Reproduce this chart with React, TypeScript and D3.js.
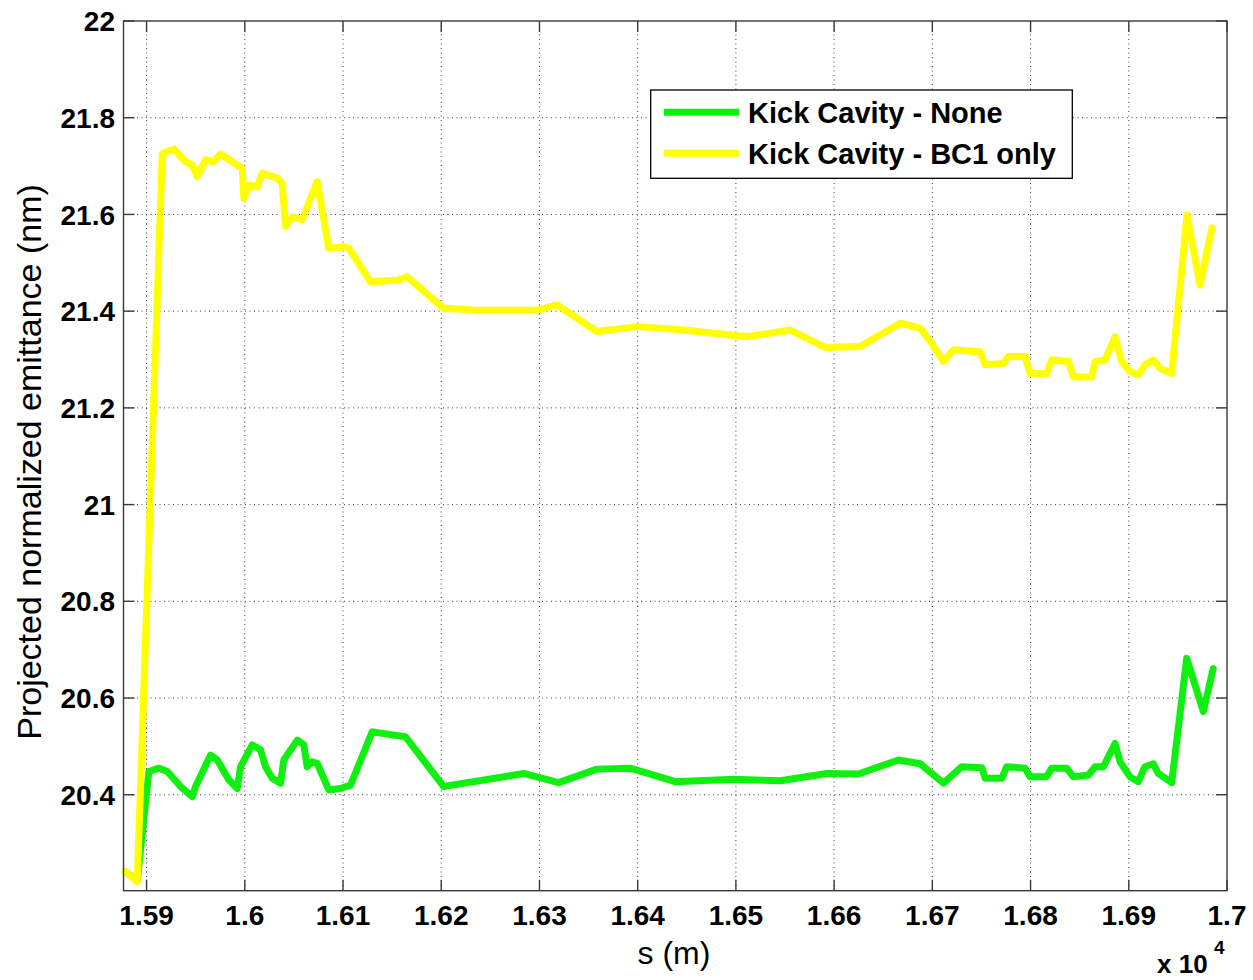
import React from "react";
import * as d3 from "d3";

const sNone: number[] = [15878.6, 15890.5, 15902.3, 15912.5, 15921.1, 15934.6, 15946.5, 15949.9, 15965.1, 15971.9, 15983.7, 15992.3, 15995.7, 16007.6, 16016.0, 16021.1, 16027.9, 16036.4, 16039.7, 16053.4, 16060.1, 16063.5, 16068.6, 16073.7, 16085.5, 16097.4, 16107.6, 16129.7, 16163.5, 16202.5, 16283.9, 16319.5, 16358.6, 16392.5, 16438.3, 16497.6, 16545.1, 16592.6, 16624.8, 16665.5, 16687.6, 16711.3, 16730.0, 16750.4, 16753.7, 16770.7, 16775.7, 16794.4, 16799.5, 16816.5, 16821.6, 16836.8, 16843.6, 16858.9, 16865.7, 16874.1, 16886.0, 16891.1, 16901.3, 16909.7, 16916.5, 16925.0, 16930.0, 16943.7, 16959.0, 16975.9, 16986.0];
const eNone: number[] = [20.241, 20.222, 20.448, 20.455, 20.448, 20.417, 20.396, 20.417, 20.482, 20.472, 20.431, 20.413, 20.458, 20.503, 20.493, 20.458, 20.434, 20.424, 20.472, 20.513, 20.503, 20.458, 20.468, 20.465, 20.41, 20.413, 20.42, 20.53, 20.52, 20.417, 20.444, 20.425, 20.453, 20.455, 20.427, 20.432, 20.429, 20.444, 20.443, 20.472, 20.464, 20.424, 20.458, 20.456, 20.434, 20.434, 20.458, 20.455, 20.437, 20.438, 20.455, 20.455, 20.437, 20.441, 20.458, 20.458, 20.506, 20.468, 20.437, 20.427, 20.458, 20.464, 20.444, 20.425, 20.682, 20.572, 20.661];

const sBC1: number[] = [15878.6, 15890.5, 15916.0, 15927.8, 15939.7, 15946.5, 15951.6, 15960.0, 15968.5, 15975.3, 15992.3, 15997.4, 15999.0, 16004.1, 16012.6, 16017.7, 16033.0, 16038.1, 16041.4, 16048.3, 16058.4, 16073.7, 16085.5, 16100.8, 16105.9, 16127.9, 16155.1, 16165.3, 16202.4, 16236.5, 16297.5, 16317.8, 16358.5, 16399.2, 16446.7, 16511.2, 16555.3, 16590.9, 16626.5, 16667.2, 16687.6, 16699.5, 16711.3, 16721.5, 16748.6, 16753.7, 16772.4, 16777.4, 16794.4, 16799.5, 16816.5, 16821.6, 16838.5, 16843.6, 16862.3, 16865.7, 16875.9, 16886.0, 16892.8, 16901.3, 16909.7, 16916.5, 16925.0, 16931.8, 16943.7, 16959.3, 16972.5, 16984.7];
const eBC1: number[] = [20.241, 20.22, 21.726, 21.735, 21.709, 21.702, 21.678, 21.713, 21.709, 21.725, 21.702, 21.695, 21.633, 21.661, 21.657, 21.685, 21.675, 21.664, 21.575, 21.595, 21.589, 21.668, 21.53, 21.533, 21.53, 21.461, 21.464, 21.471, 21.406, 21.402, 21.402, 21.413, 21.358, 21.368, 21.361, 21.347, 21.361, 21.325, 21.327, 21.375, 21.365, 21.333, 21.296, 21.32, 21.316, 21.289, 21.292, 21.306, 21.306, 21.271, 21.271, 21.299, 21.296, 21.264, 21.264, 21.296, 21.299, 21.347, 21.296, 21.275, 21.268, 21.289, 21.299, 21.282, 21.271, 21.599, 21.454, 21.572];

const xTicks: number[] = [15900, 16000, 16100, 16200, 16300, 16400, 16500, 16600, 16700, 16800, 16900, 17000];
const xTickLabels: string[] = ["1.59", "1.6", "1.61", "1.62", "1.63", "1.64", "1.65", "1.66", "1.67", "1.68", "1.69", "1.7"];
const yTicks: number[] = [20.4, 20.6, 20.8, 21, 21.2, 21.4, 21.6, 21.8, 22];
const yTickLabels: string[] = ["20.4", "20.6", "20.8", "21", "21.2", "21.4", "21.6", "21.8", "22"];
const seriesNames: string[] = ["Kick Cavity - None", "Kick Cavity - BC1 only"];
const seriesColors: string[] = ["#10f010", "#ffff00"];

const L = 123.5, R = 1227, T = 21, B = 890.7;

export default function App() {
  const x = d3.scaleLinear().domain([15876.5, 17000]).range([L, R]);
  const y = d3.scaleLinear().domain([20.2016, 22]).range([B, T]);
  const line = d3.line<[number, number]>().x((d) => x(d[0])).y((d) => y(d[1]));
  const dNone = line(sNone.map((s, i) => [s, eNone[i]] as [number, number])) || "";
  const dBC1 = line(sBC1.map((s, i) => [s, eBC1[i]] as [number, number])) || "";
  const font = "Arial, 'Liberation Sans', Helvetica, sans-serif";
  const tl = 11;
  const axisColor = "#3a3a3a";
  return (
    <svg width={1253} height={980} style={{ position: "absolute", left: 0, top: 0, background: "#fff" }} fontFamily={font}>
      <rect x={0} y={0} width={1253} height={980} fill="#fff" />
      {/* grid */}
      <g stroke="#000" strokeWidth={1} strokeDasharray="1,3.5" opacity={0.75}>
        {xTicks.filter((t) => x(t) < R - 1).map((t) => (
          <line key={"gx" + t} x1={x(t)} x2={x(t)} y1={T} y2={B} />
        ))}
        {yTicks.filter((t) => y(t) > T + 1).map((t) => (
          <line key={"gy" + t} x1={L} x2={R} y1={y(t)} y2={y(t)} />
        ))}
      </g>
      {/* lines */}
      <path d={dNone} fill="none" stroke={seriesColors[0]} strokeWidth={7} strokeLinejoin="round" strokeLinecap="round" />
      <path d={dBC1} fill="none" stroke={seriesColors[1]} strokeWidth={7} strokeLinejoin="round" strokeLinecap="round" />
      {/* box and ticks */}
      <rect x={L} y={T} width={R - L} height={B - T} fill="none" stroke={axisColor} strokeWidth={1.4} />
      <g stroke={axisColor} strokeWidth={1.4}>
        {xTicks.map((t) => (
          <g key={"tx" + t}>
            <line x1={x(t)} x2={x(t)} y1={B} y2={B - tl} />
            <line x1={x(t)} x2={x(t)} y1={T} y2={T + tl} />
          </g>
        ))}
        {yTicks.map((t) => (
          <g key={"ty" + t}>
            <line x1={L} x2={L + tl} y1={y(t)} y2={y(t)} />
            <line x1={R} x2={R - tl} y1={y(t)} y2={y(t)} />
          </g>
        ))}
      </g>
      {/* tick labels */}
      <g fontSize={28} fontWeight="bold" fill="#000">
        {xTicks.map((t, i) => (
          <text key={"lx" + t} x={x(t)} y={925} textAnchor="middle">{xTickLabels[i]}</text>
        ))}
        {yTicks.map((t, i) => (
          <text key={"ly" + t} x={115} y={y(t)} dy="0.36em" textAnchor="end">{yTickLabels[i]}</text>
        ))}
      </g>
      <text x={1157} y={973} fontSize={26} fontWeight="bold">x 10</text>
      <text x={1214} y={954} fontSize={19} fontWeight="bold">4</text>
      {/* axis labels */}
      <text x={674} y={964} fontSize={32} textAnchor="middle">s (m)</text>
      <text transform="translate(31,462) rotate(-90)" dy="0.3em" fontSize={34} textAnchor="middle">Projected normalized emittance (nm)</text>
      {/* legend */}
      <rect x={650.7} y={90} width={421.6} height={88.3} fill="#fff" stroke="#000" strokeWidth={1.3} />
      {seriesNames.map((n, i) => (
        <g key={n}>
          <line x1={664} x2={739} y1={112.3 + i * 41} y2={112.3 + i * 41} stroke={seriesColors[i]} strokeWidth={7} />
          <text x={748} y={112.3 + i * 41} dy="0.36em" fontSize={29} fontWeight="bold">{n}</text>
        </g>
      ))}
    </svg>
  );
}
